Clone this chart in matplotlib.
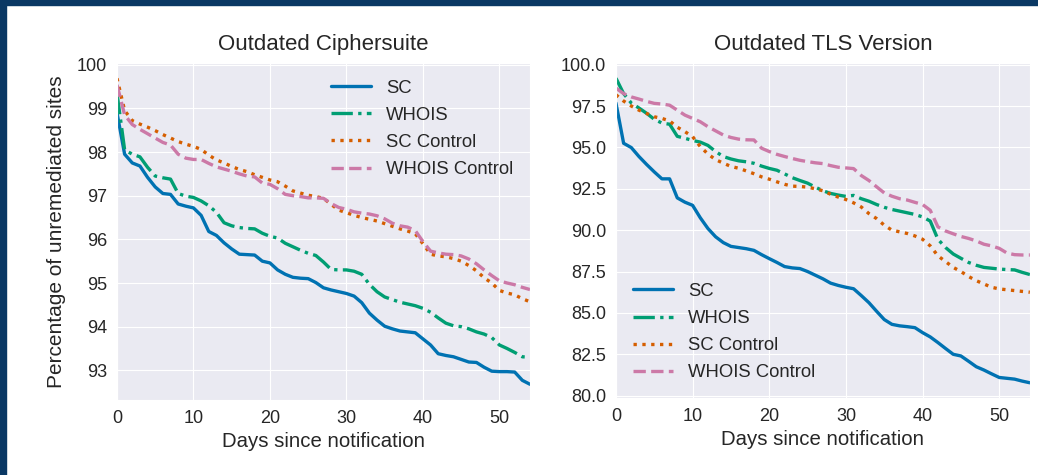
import matplotlib
matplotlib.use("Agg")
import matplotlib.pyplot as plt
from matplotlib.patches import Rectangle
import numpy as np
import seaborn as sns

days = np.arange(0, 55)

# Outdated Ciphersuite
cs_sc = [98.90, 97.95, 97.75, 97.68, 97.42, 97.20, 97.05, 97.03, 96.81, 96.76,
         96.72, 96.55, 96.18, 96.09, 95.92, 95.78, 95.66, 95.65, 95.64, 95.50,
         95.46, 95.30, 95.20, 95.13, 95.11, 95.10, 95.01, 94.89, 94.84, 94.80,
         94.76, 94.70, 94.55, 94.31, 94.15, 94.01, 93.95, 93.90, 93.88, 93.86,
         93.72, 93.58, 93.38, 93.34, 93.31, 93.25, 93.19, 93.18, 93.07, 92.98,
         92.97, 92.97, 92.96, 92.77, 92.68]
cs_whois = [99.35, 98.05, 97.95, 97.89, 97.65, 97.45, 97.41, 97.38, 97.05, 96.99,
            96.96, 96.88, 96.77, 96.62, 96.38, 96.31, 96.27, 96.25, 96.24, 96.14,
            96.07, 96.03, 95.91, 95.83, 95.75, 95.68, 95.63, 95.48, 95.31, 95.30,
            95.30, 95.27, 95.20, 94.97, 94.80, 94.68, 94.62, 94.56, 94.52, 94.48,
            94.42, 94.33, 94.20, 94.08, 94.02, 94.00, 93.95, 93.88, 93.83, 93.75,
            93.58, 93.50, 93.41, 93.31, 93.30]
cs_sc_ctrl = [99.69, 98.95, 98.72, 98.64, 98.57, 98.49, 98.40, 98.32, 98.24, 98.18,
              98.13, 98.06, 97.93, 97.82, 97.75, 97.67, 97.60, 97.55, 97.48, 97.42,
              97.36, 97.32, 97.22, 97.11, 97.06, 97.01, 96.98, 96.94, 96.80, 96.67,
              96.61, 96.55, 96.50, 96.46, 96.42, 96.36, 96.30, 96.24, 96.19, 96.13,
              95.90, 95.66, 95.62, 95.60, 95.56, 95.50, 95.40, 95.28, 95.12, 95.00,
              94.83, 94.77, 94.73, 94.64, 94.57]
cs_whois_ctrl = [99.54, 98.85, 98.63, 98.52, 98.42, 98.32, 98.22, 98.16, 97.95, 97.86,
                 97.83, 97.83, 97.74, 97.66, 97.61, 97.56, 97.50, 97.45, 97.43, 97.29,
                 97.26, 97.16, 97.03, 97.00, 96.98, 96.95, 96.95, 96.94, 96.82, 96.73,
                 96.69, 96.63, 96.60, 96.58, 96.54, 96.47, 96.37, 96.31, 96.28, 96.20,
                 95.95, 95.73, 95.69, 95.66, 95.65, 95.62, 95.55, 95.44, 95.30, 95.17,
                 95.05, 95.00, 94.96, 94.90, 94.85]

# Outdated TLS Version
tls_sc = [97.68, 95.25, 94.99, 94.45, 93.97, 93.52, 93.10, 93.10, 91.95, 91.69,
          91.50, 90.75, 90.10, 89.60, 89.25, 89.02, 88.95, 88.88, 88.78, 88.52,
          88.28, 88.05, 87.80, 87.72, 87.68, 87.50, 87.28, 87.06, 86.80, 86.66,
          86.55, 86.46, 86.05, 85.62, 85.10, 84.60, 84.31, 84.22, 84.17, 84.11,
          83.81, 83.55, 83.21, 82.85, 82.50, 82.40, 82.08, 81.75, 81.55, 81.32,
          81.10, 81.05, 81.00, 80.88, 80.78]
tls_whois = [99.18, 98.25, 97.68, 97.38, 97.06, 96.70, 96.47, 96.40, 95.67, 95.55,
             95.42, 95.32, 95.12, 94.75, 94.45, 94.30, 94.19, 94.13, 94.04, 93.87,
             93.73, 93.62, 93.40, 93.17, 93.00, 92.84, 92.60, 92.38, 92.22, 92.12,
             92.04, 92.10, 91.90, 91.75, 91.55, 91.38, 91.25, 91.15, 91.05, 90.95,
             90.80, 90.55, 89.45, 88.95, 88.56, 88.30, 88.05, 87.88, 87.75, 87.70,
             87.65, 87.62, 87.60, 87.45, 87.32]
tls_sc_ctrl = [98.18, 97.80, 97.50, 97.25, 97.05, 96.85, 96.75, 96.60, 96.22, 95.95,
               95.65, 95.05, 94.60, 94.26, 94.05, 93.85, 93.74, 93.58, 93.41, 93.22,
               93.08, 92.92, 92.77, 92.66, 92.64, 92.60, 92.50, 92.38, 92.17, 92.00,
               91.85, 91.65, 91.40, 91.00, 90.70, 90.30, 90.00, 89.90, 89.80, 89.65,
               89.45, 89.05, 88.45, 88.10, 87.75, 87.50, 87.20, 86.95, 86.75, 86.55,
               86.45, 86.40, 86.35, 86.30, 86.25]
tls_whois_ctrl = [98.58, 98.25, 98.05, 97.92, 97.78, 97.66, 97.62, 97.55, 97.25, 96.95,
                  96.75, 96.55, 96.25, 96.00, 95.75, 95.60, 95.50, 95.46, 95.45, 94.95,
                  94.75, 94.58, 94.45, 94.33, 94.22, 94.14, 94.07, 94.02, 93.90, 93.80,
                  93.76, 93.72, 93.30, 93.00, 92.62, 92.25, 92.05, 91.90, 91.82, 91.68,
                  91.55, 91.20, 90.20, 89.95, 89.78, 89.62, 89.50, 89.35, 89.15, 89.05,
                  88.90, 88.62, 88.52, 88.50, 88.50]

labels = ["SC", "WHOIS", "SC Control", "WHOIS Control"]
colors = ["#0072B2", "#009E73", "#D55E00", "#CC79A7"]
styles = ["-", "-.", ":", "--"]

sns.set_style("darkgrid")
plt.rcParams["font.family"] = ["Liberation Sans", "DejaVu Sans"]
plt.rcParams["text.color"] = "#262626"
plt.rcParams["axes.labelcolor"] = "#262626"
plt.rcParams["xtick.color"] = "#262626"
plt.rcParams["ytick.color"] = "#262626"

fig = plt.figure(figsize=(10.38, 4.75), dpi=100)
ax1 = fig.add_axes([0.1127, 0.1579, 0.3979, 0.7095])
ax2 = fig.add_axes([0.5934, 0.1621, 0.3988, 0.7053])


def draw(ax, series, title, ylim, yticks, yfmt, legend_loc):
    for vals, lab, c, ls in zip(series, labels, colors, styles):
        ax.plot(days, vals, color=c, linestyle=ls, linewidth=2.4, label=lab)
    ax.set_xlim(0, 54)
    ax.set_ylim(*ylim)
    ax.set_xticks([0, 10, 20, 30, 40, 50])
    ax.set_yticks(yticks)
    ax.set_yticklabels([yfmt.format(t) for t in yticks])
    ax.tick_params(labelsize=13)
    ax.set_title(title, fontsize=16, pad=9)
    ax.set_xlabel("Days since notification", fontsize=14.7)
    ax.legend(loc=legend_loc, fontsize=13.3, frameon=False, handlelength=2.2,
              labelspacing=0.55)


draw(ax1, [cs_sc, cs_whois, cs_sc_ctrl, cs_whois_ctrl], "Outdated Ciphersuite",
     (92.32, 100.04), [93, 94, 95, 96, 97, 98, 99, 100], "{:.0f}", "upper right")
ax1.set_ylabel("Percentage of unremediated sites", fontsize=15, labelpad=8)

draw(ax2, [tls_sc, tls_whois, tls_sc_ctrl, tls_whois_ctrl], "Outdated TLS Version",
     (79.86, 100.1), [80, 82.5, 85, 87.5, 90, 92.5, 95, 97.5, 100], "{:.1f}", "lower left")

# slide frame
navy = "#0a3864"
fig.patches.append(Rectangle((0, 1 - 5 / 475), 1, 5 / 475, transform=fig.transFigure,
                             color=navy, zorder=10))
fig.patches.append(Rectangle((0, 0), 6 / 1038, 1, transform=fig.transFigure,
                             color=navy, zorder=10))

fig.savefig("out.png", dpi=100)
